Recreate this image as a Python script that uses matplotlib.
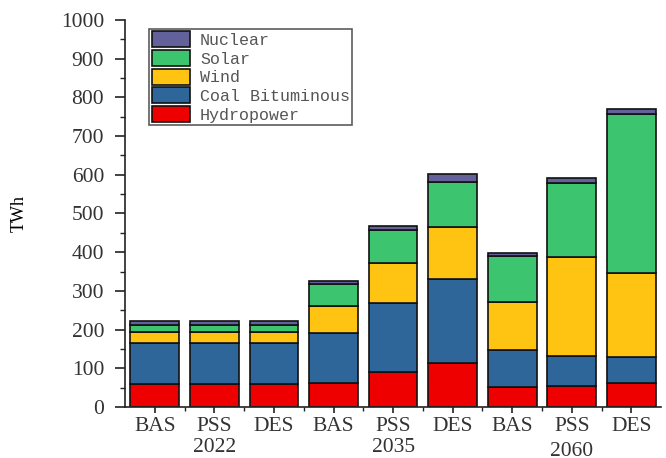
import numpy as np
import matplotlib
matplotlib.use('Agg')
import matplotlib.pyplot as plt
from matplotlib.ticker import MultipleLocator, FixedLocator

# Data (TWh)
scenarios = ['BAS', 'PSS', 'DES', 'BAS', 'PSS', 'DES', 'BAS', 'PSS', 'DES']
years = ['2022', '2035', '2060']
hydro = [59, 59, 59, 63, 90, 113, 51, 55, 63]
coal = [106, 106, 106, 129, 179, 217, 96, 77, 65]
wind = [30, 30, 30, 69, 102, 136, 125, 255, 217]
solar = [17, 17, 17, 56, 86, 116, 118, 193, 411]
nuclear = [10, 10, 10, 9, 11, 19, 7, 11, 14]

series = [('Hydropower', hydro, '#ee0000'),
          ('Coal Bituminous', coal, '#2f6699'),
          ('Wind', wind, '#ffc312'),
          ('Solar', solar, '#3cc46f'),
          ('Nuclear', nuclear, '#62619a')]

fig = plt.figure(figsize=(6.66, 4.58), dpi=100)
ax = fig.add_axes([0.1877, 0.1114, 0.805, 0.845])

x = np.arange(len(scenarios))
bottom = np.zeros(len(scenarios))
handles = []
for name, vals, col in series:
    h = ax.bar(x, vals, 0.82, bottom=bottom, color=col, edgecolor='#111111',
               linewidth=1.2, label=name)
    handles.append(h)
    bottom += np.array(vals)

ax.set_xlim(-0.5, 8.5)
ax.set_ylim(0, 1000)
ax.spines['top'].set_visible(False)
ax.spines['right'].set_visible(False)
for s in ['left', 'bottom']:
    ax.spines[s].set_linewidth(1.2)
    ax.spines[s].set_color('#222222')

ax.yaxis.set_major_locator(MultipleLocator(100))
ax.yaxis.set_minor_locator(MultipleLocator(50))
ax.set_xticks(x)
ax.set_xticklabels(scenarios)
ax.xaxis.set_minor_locator(FixedLocator(np.arange(0.5, 8.5, 1)))
ax.tick_params(which='major', width=1.2, color='#222222',
               labelsize=15.5, labelcolor='#333333')
ax.tick_params(which='minor', width=1.0, color='#222222')
ax.tick_params(axis='y', which='major', length=7, pad=8)
ax.tick_params(axis='y', which='minor', length=3.5)
ax.tick_params(axis='x', which='major', length=4.5, pad=3)
ax.tick_params(axis='x', which='minor', length=3)
for lab in ax.get_xticklabels() + ax.get_yticklabels():
    lab.set_fontfamily('Liberation Serif')

ax.set_ylabel('TWh', fontfamily='Liberation Serif', fontsize=13)
ax.yaxis.set_label_coords(-0.181, 0.5)

# year labels under the middle scenario of each group
for i, yr in enumerate(years):
    ax.text(1 + 3 * i, -0.080 - 0.010 * (i == 2), yr, transform=ax.get_xaxis_transform(),
            ha='center', va='top', fontsize=15.5, fontfamily='Liberation Serif',
            color='#333333')

leg = ax.legend(handles[::-1], [s[0] for s in series][::-1],
                loc='upper left', bbox_to_anchor=(0.045, 0.977),
                prop={'family': 'Liberation Mono', 'size': 12},
                frameon=True, fancybox=False, edgecolor='#333333',
                borderpad=0.15, labelspacing=0.12, handlelength=2.3,
                handleheight=1.1, handletextpad=0.6, borderaxespad=0)
leg.get_frame().set_linewidth(1.2)
for t in leg.get_texts():
    t.set_color('#555555')

fig.savefig('out.png', dpi=100)
